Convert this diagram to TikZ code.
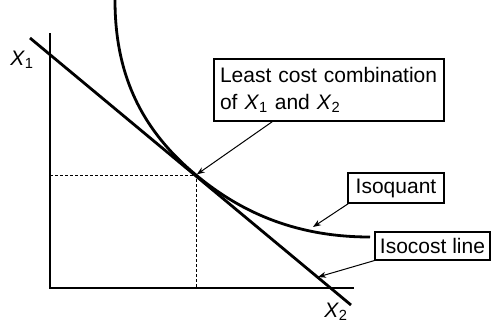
\documentclass[tikz,border=0pt]{standalone}
\usepackage{fontspec}
\setmainfont{Liberation Sans}
\usetikzlibrary{arrows.meta}
\begin{document}
\begin{tikzpicture}[x=1pt,y=-1pt,
  axis/.style={line width=1.6pt},
  guide/.style={line width=0.8pt,dash pattern=on 3pt off 2pt},
  curve/.style={line width=2.8pt},
  box/.style={draw,line width=1.1pt,inner xsep=6pt,inner ysep=0pt,
    font=\fontsize{21}{27}\selectfont},
  pointer/.style={line width=1pt,-{Stealth[length=8pt,width=6pt]}},
  lbl/.style={inner sep=0pt,font=\fontsize{21}{24}\selectfont}]
\useasboundingbox (0,0) rectangle (496,333);
\coordinate (O) at (50,288);
\coordinate (Ytop) at (50,33);
\coordinate (Xend) at (354,288);
\coordinate (T) at (196,175);
\coordinate (C1) at (30,38);
\coordinate (C2) at (351,305);
\coordinate (Q0) at (115,0);
\coordinate (Q1) at (370,237);
\coordinate (QA) at (313,227);
\coordinate (CA) at (318,277);
\draw[axis] (Ytop) -- (O) -- (Xend);
\draw[guide] (O |- T) -- (T) -- (T |- O);
\draw[curve] (C1) -- (C2);
\draw[curve] (Q0) .. controls (115,70) and (138,127) .. (T)
  .. controls (244,215) and (300,237) .. (Q1);
\node[lbl] (X1) at (22,60) {\textit{X}\textsubscript{1}};
\node[lbl] (X2) at (336,312) {\textit{X}\textsubscript{2}};
\node[box,text width=218pt,align=left,minimum height=62pt] (LC) at (329,90)
  {Least cost combination\\of \textit{X}\textsubscript{1} and \textit{X}\textsubscript{2}};
\node[box,minimum width=96pt,minimum height=30pt,inner xsep=0pt] (IQ) at (396,188) {Isoquant};
\node[box,minimum width=115pt,minimum height=28pt,inner xsep=0pt] (IC) at (432.5,246) {Isocost line};
\draw[pointer,shorten >=1pt] ([xshift=59pt]LC.south west) -- (T);
\draw[pointer] ([xshift=1pt]IQ.south west) -- (QA);
\draw[pointer] (IC.south west) -- (CA);
\end{tikzpicture}
\end{document}
